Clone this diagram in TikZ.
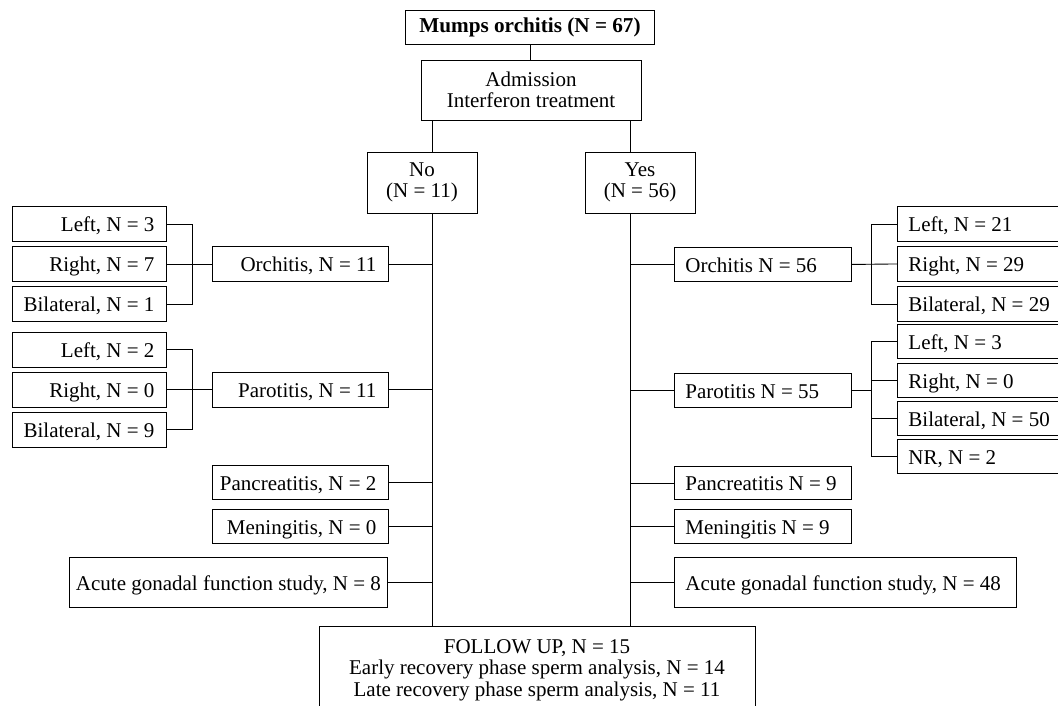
\documentclass[tikz,border=0pt]{standalone}
\usepackage{fontspec}
\setmainfont{Liberation Serif}
\newcommand{\rtx}[2]{\makebox[#1][r]{#2}}
\newcommand{\ltx}[2]{\makebox[#1][l]{#2}}
\newcommand{\ctx}[2]{\makebox[#1][c]{#2}}
\begin{document}
\begin{tikzpicture}[x=1pt,y=-1pt,
  font=\fontsize{21}{21.5}\selectfont,
  bx/.style={draw, line width=0.9pt, inner ysep=0pt, minimum height=35pt, text height=15.5pt, text depth=0pt, anchor=north west},
  lb/.style={bx, inner xsep=12pt},
  rb/.style={bx, inner xsep=11pt},
  cb/.style={draw, line width=0.9pt, align=center, inner sep=0pt},
  ln/.style={line width=0.9pt}]
\useasboundingbox (0,0) rectangle (1058,706);
\clip (0,0) rectangle (1058,706);
% top
\node[cb, minimum width=249pt, minimum height=34pt, font=\fontsize{21.2}{21.5}\selectfont\bfseries] (mumps) at (530,27) {Mumps orchitis (N = 67)};
\node[cb, minimum width=220pt, minimum height=60pt] (adm) at (531,90) {Admission\\Interferon treatment};
\node[cb, minimum width=110pt, minimum height=61pt] (no) at (422,182.5) {No\\(N = 11)};
\node[cb, minimum width=110pt, minimum height=61pt] (yes) at (640,182.5) {Yes\\(N = 56)};
\coordinate (tL) at (432,0);
\coordinate (tR) at (630,0);
\coordinate (bxL) at (192,0);
\coordinate (bxR) at (871,0);
% follow up
\node[draw, line width=0.9pt, minimum width=436pt, minimum height=140pt, anchor=north, inner sep=0pt] (fu) at (537,626) {};
\node[align=center, anchor=base, inner sep=0pt] (fut) at (537,696) {FOLLOW UP, N = 15\\Early recovery phase sperm analysis, N = 14\\Late recovery phase sperm analysis, N = 11};
% left side
\node[lb] (l1) at (12,206) {\rtx{130pt}{Left, N = 3}};
\node[lb] (l2) at (12,246) {\rtx{130pt}{Right, N = 7}};
\node[lb] (l3) at (12,286) {\rtx{130pt}{Bilateral, N = 1}};
\node[lb] (orL) at (212,246) {\rtx{152pt}{Orchitis, N = 11}};
\node[lb, minimum height=34.5pt] (pl1) at (12,332) {\rtx{130pt}{Left, N = 2}};
\node[lb, minimum height=34.5pt] (pl2) at (12,372) {\rtx{130pt}{Right, N = 0}};
\node[lb, minimum height=34.5pt] (pl3) at (12,412) {\rtx{130pt}{Bilateral, N = 9}};
\node[lb, minimum height=34.5pt] (parL) at (212,372) {\rtx{152pt}{Parotitis, N = 11}};
\node[lb, minimum height=34pt] (panL) at (212,465) {\rtx{152pt}{Pancreatitis, N = 2}};
\node[lb, minimum height=34pt] (menL) at (212,509) {\rtx{152pt}{Meningitis, N = 0}};
\node[bx, inner xsep=4pt, minimum height=50pt] (acL) at (69,557) {\ctx{310pt}{Acute gonadal function study, N = 8}};
% right side
\node[rb, minimum height=34pt] (orR) at (674,247) {\ltx{155pt}{Orchitis N = 56}};
\node[rb] (r1) at (897,206) {\ltx{171pt}{Left, N = 21}};
\node[rb] (r2) at (897,246) {\ltx{171pt}{Right, N = 29}};
\node[rb] (r3) at (897,286) {\ltx{171pt}{Bilateral, N = 29}};
\node[rb, minimum height=34pt] (parR) at (674,373) {\ltx{155pt}{Parotitis N = 55}};
\node[rb, minimum height=34pt] (p1) at (897,324) {\ltx{171pt}{Left, N = 3}};
\node[rb, minimum height=34pt] (p2) at (897,363) {\ltx{171pt}{Right, N = 0}};
\node[rb, minimum height=34pt] (p3) at (897,401) {\ltx{171pt}{Bilateral, N = 50}};
\node[rb, minimum height=34pt] (p4) at (897,439) {\ltx{171pt}{NR, N = 2}};
\node[rb, minimum height=33pt] (panR) at (674,466) {\ltx{155pt}{Pancreatitis N = 9}};
\node[rb, minimum height=34pt] (menR) at (674,509) {\ltx{155pt}{Meningitis N = 9}};
\node[rb, minimum height=50pt] (acR) at (674,557) {\ltx{320pt}{Acute gonadal function study, N = 48}};
% connectors top
\draw[ln] (mumps.south) -- (mumps.south |- adm.north);
\draw[ln] (adm.south -| tL) -- (no.north -| tL);
\draw[ln] (adm.south -| tR) -- (yes.north -| tR);
\draw[ln] (no.south -| tL) -- (fu.north -| tL);
\draw[ln] (yes.south -| tR) -- (fu.north -| tR);
% left branches
\draw[ln] (orL.east) -- (orL.east -| tL);
\draw[ln] (parL.east) -- (parL.east -| tL);
\draw[ln] (panL.east) -- (panL.east -| tL);
\draw[ln] (menL.east) -- (menL.east -| tL);
\draw[ln] (acL.east) -- (acL.east -| tL);
\draw[ln] (l1.east) -| (l3.east -| bxL) -- (l3.east);
\draw[ln] (l2.east) -- (orL.west);
\draw[ln] (pl1.east) -| (pl3.east -| bxL) -- (pl3.east);
\draw[ln] (pl2.east) -- (parL.west);
% right branches
\draw[ln] (orR.west) -- (orR.west -| tR);
\draw[ln] (parR.west) -- (parR.west -| tR);
\draw[ln] (panR.west) -- (panR.west -| tR);
\draw[ln] (menR.west) -- (menR.west -| tR);
\draw[ln] (acR.west) -- (acR.west -| tR);
\draw[ln] (r1.west) -| (r3.west -| bxR) -- (r3.west);
\draw[ln] (orR.east) -- (r2.west);
\draw[ln] (p1.west) -| (p4.west -| bxR) -- (p4.west);
\draw[ln] (parR.east) -- (parR.east -| bxR);
\draw[ln] (p2.west) -- (p2.west -| bxR);
\draw[ln] (p3.west) -- (p3.west -| bxR);
\end{tikzpicture}
\end{document}
